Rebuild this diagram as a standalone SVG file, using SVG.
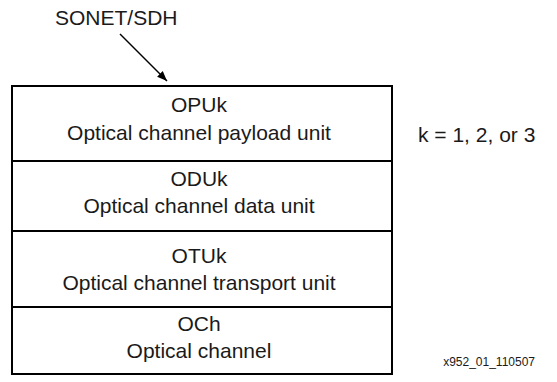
<svg xmlns="http://www.w3.org/2000/svg" width="557" height="382" viewBox="0 0 557 382">
<style>
text{font-family:"Liberation Sans",Arial,sans-serif;fill:#1a1a1a}
.t{font-size:21px;text-anchor:middle}
.box{fill:#fff;stroke:#000;stroke-width:2}
.c{stroke:#000;stroke-width:1.5;fill:none}
</style>
<defs>
<marker id="ah" viewBox="0 0 10 10" refX="10" refY="5" markerWidth="10" markerHeight="10" markerUnits="userSpaceOnUse" orient="auto">
<path d="M0,1 L10,5 L0,9 z" fill="#000"/>
</marker>
</defs>
<rect width="557" height="382" fill="#fff"/>
<g id="opuk"><rect class="box" x="12" y="86" width="380" height="75"/><text class="t" x="199" y="112">OPUk</text><text class="t" x="199" y="140">Optical channel payload unit</text></g>
<g id="oduk"><rect class="box" x="12" y="161" width="380" height="70"/><text class="t" x="199" y="186">ODUk</text><text class="t" x="199" y="213">Optical channel data unit</text></g>
<g id="otuk"><rect class="box" x="12" y="231" width="380" height="76"/><text class="t" x="199" y="263">OTUk</text><text class="t" x="199" y="290">Optical channel transport unit</text></g>
<g id="och"><rect class="box" x="12" y="307" width="380" height="67"/><text class="t" x="199" y="331">OCh</text><text class="t" x="199" y="358">Optical channel</text></g>
<g id="sonet"><text x="55" y="25" style="font-size:21px">SONET/SDH</text></g>
<g id="connectors"><line class="c" x1="120" y1="34" x2="167" y2="81" marker-end="url(#ah)"/></g>
<text x="418" y="142" style="font-size:21px">k = 1, 2, or 3</text>
<text x="535" y="366" style="font-size:12px;text-anchor:end">x952_01_110507</text>
</svg>
